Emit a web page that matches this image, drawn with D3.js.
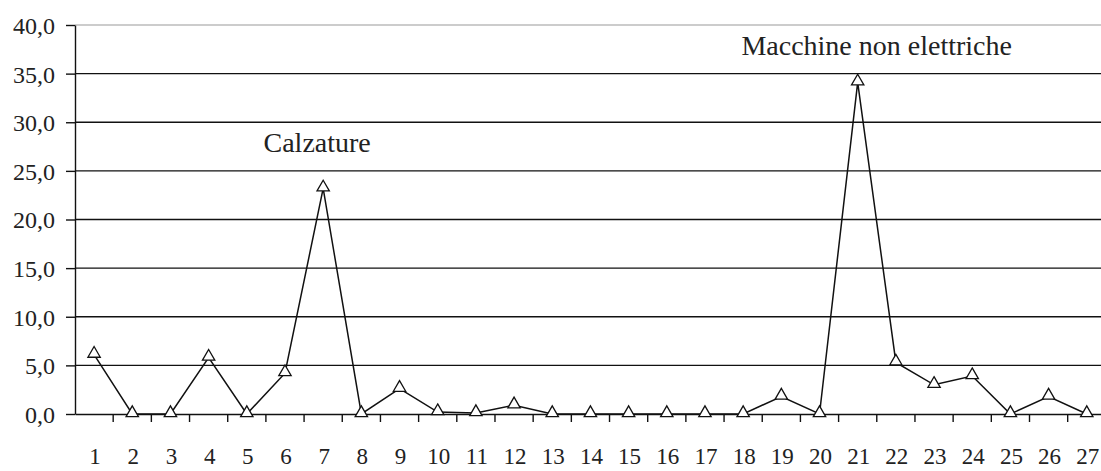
<!DOCTYPE html>
<html><head><meta charset="utf-8">
<script src="https://cdn.jsdelivr.net/npm/d3@7"></script>
<style>body{margin:0;background:#fff}svg{display:block}text{font-family:"Liberation Serif","Times New Roman",serif;fill:#222}</style>
</head><body><svg id="c" width="1101" height="471"></svg>
<script>
const categories = d3.range(1, 28).map(String);
const values = [6.1, 0, 0, 5.8, 0, 4.2, 23.2, 0, 2.6, 0.2, 0.1, 0.9, 0, 0, 0, 0, 0, 0, 1.8, 0, 34.1, 5.3, 3.0, 3.9, 0, 1.8, 0];
const yTicks = [0, 5, 10, 15, 20, 25, 30, 35, 40];
const annotationLabels = ["Calzature", "Macchine non elettriche"];
const annotationCats = ["7", "21"];

const svg = d3.select("#c");
const x0 = 75, band = 38.18;
const x = d3.scaleBand().domain(categories).range([x0, x0 + band * categories.length]).paddingInner(0).paddingOuter(0);
const y = d3.scaleLinear().domain([0, 40]).range([414, 25]);
const fmt = d => d.toFixed(1).replace(".", ",");
const font = '"Liberation Serif","Times New Roman",serif';

// gridlines
svg.append("g").selectAll("line").data(yTicks.filter(d => d > 0)).join("line")
  .attr("x1", x0).attr("x2", 1101).attr("y1", d => y(d)).attr("y2", d => y(d))
  .attr("stroke", d => d === 40 ? "#999" : "#111").attr("stroke-width", d => d === 40 ? 1.2 : 1.4);

// y axis
const ya = svg.append("g").attr("transform", `translate(${x0},0)`)
  .call(d3.axisLeft(y).tickValues(yTicks).tickFormat(fmt).tickSize(9).tickSizeOuter(0));
ya.select(".domain").attr("stroke", "#111").attr("stroke-width", 1.4);
ya.selectAll(".tick line").attr("stroke", "#111").attr("stroke-width", 1.4);
ya.selectAll("text").attr("font-size", 24).attr("x", -20).attr("dy", "0.35em").style("font-family", font).attr("fill", "#222");

// x axis
const xa = svg.append("g").attr("transform", `translate(0,${y(0)})`)
  .call(d3.axisBottom(x).tickSize(0).tickSizeOuter(0));
xa.select(".domain").attr("stroke", "#111").attr("stroke-width", 1.4);
xa.selectAll("text").attr("font-size", 23).attr("y", 42).attr("dx", 1).attr("dy", "0.35em").style("font-family", font).attr("fill", "#222");
// category boundary ticks
svg.append("g").selectAll("line").data(categories.slice(1)).join("line")
  .attr("x1", d => x(d)).attr("x2", d => x(d)).attr("y1", y(0)).attr("y2", y(0) + 8)
  .attr("stroke", "#111").attr("stroke-width", 1.4);

// line
const cx = (d, i) => x(categories[i]) + x.bandwidth() / 2;
svg.append("path").datum(values)
  .attr("d", d3.line().x(cx).y(d => y(d)))
  .attr("fill", "none").attr("stroke", "#111").attr("stroke-width", 1.5);

// triangle markers
const tri = d3.symbol().type(d3.symbolTriangle).size(66);
svg.append("g").selectAll("path").data(values).join("path")
  .attr("d", tri)
  .attr("transform", (d, i) => `translate(${cx(d, i)},${y(d) - 1})`)
  .attr("fill", "#fff").attr("stroke", "#111").attr("stroke-width", 1.3);

// annotations
const annDx = [-6, 19], annDy = [-36, -27];
svg.append("g").selectAll("text").data(annotationLabels).join("text")
  .attr("x", (d, i) => x(annotationCats[i]) + x.bandwidth() / 2 + annDx[i])
  .attr("y", (d, i) => y(values[categories.indexOf(annotationCats[i])]) + annDy[i])
  .attr("text-anchor", "middle").attr("font-size", 28)
  .text(d => d);
</script></body></html>
